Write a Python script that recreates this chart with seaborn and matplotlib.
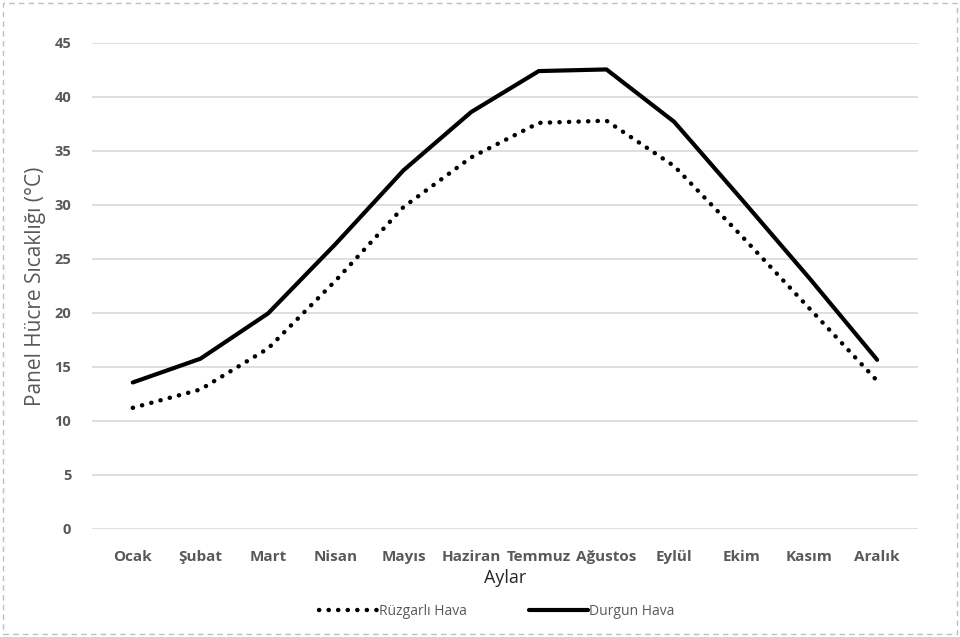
import pandas as pd
import numpy as np
import seaborn as sns
import matplotlib.pyplot as plt
from matplotlib.patches import Rectangle

# Aylar ve sıcaklık değerleri
aylar = ['Ocak', 'Şubat', 'Mart', 'Nisan', 'Mayıs', 'Haziran', 'Temmuz',
         'Ağustos', 'Eylül', 'Ekim', 'Kasım', 'Aralık']
ruzgarli = [11.2, 12.9, 16.7, 23.0, 29.8, 34.4, 37.6, 37.8, 33.6, 27.1, 20.4, 13.7]
durgun = [13.55, 15.75, 19.95, 26.4, 33.2, 38.6, 42.4, 42.55, 37.7, 30.5, 23.2, 15.65]

df = pd.DataFrame({'Ay': list(range(len(aylar))) * 2,
                   'Sicaklik': ruzgarli + durgun,
                   'Seri': ['Rüzgarlı Hava'] * len(aylar) + ['Durgun Hava'] * len(aylar)})

sns.set_style('white')
plt.rcParams['font.family'] = ['Open Sans', 'DejaVu Sans']

fig = plt.figure(figsize=(9.6, 6.37), dpi=100)
ax = fig.add_axes([0.096, 0.170, 0.860, 0.7625])

gri = '#595959'
sns.lineplot(data=df[df['Seri'] == 'Rüzgarlı Hava'], x='Ay', y='Sicaklik', ax=ax,
             color='black', linewidth=3.2, label='Rüzgarlı Hava',
             linestyle=(0, (0.05, 2.1)), dash_capstyle='round')
sns.lineplot(data=df[df['Seri'] == 'Durgun Hava'], x='Ay', y='Sicaklik', ax=ax,
             color='black', linewidth=3.0, label='Durgun Hava')

ax.set_xlim(-0.6, 11.6)
ax.set_ylim(0, 45)
ax.set_yticks(np.arange(0, 46, 5))
ax.set_xticks(range(len(aylar)))
ax.set_xticklabels(aylar)
ax.grid(axis='y', color='#d9d9d9', linewidth=1.2)
ax.grid(axis='x', visible=False)
for s in ax.spines.values():
    s.set_visible(False)
ax.tick_params(axis='both', length=0, labelcolor=gri)
ax.tick_params(axis='y', pad=15)
ax.tick_params(axis='x', pad=15)
for t in ax.get_xticklabels():
    t.set_fontweight('bold')
    t.set_fontsize(11)
for t in ax.get_yticklabels():
    t.set_fontweight('bold')
    t.set_fontsize(10.5)

ax.set_xlabel('Aylar', fontsize=13, color='#262626', labelpad=4)
ax.set_ylabel('Panel Hücre Sıcaklığı (°C)', fontsize=15, color=gri, labelpad=6)

ax.legend(loc='upper center', bbox_to_anchor=(0.49, -0.13), ncol=2, frameon=False,
          fontsize=10, labelcolor=gri, handlelength=4.2, handletextpad=0.1,
          columnspacing=4.5)

# kesikli çerçeve
fig.patches.append(Rectangle((0.003, 0.004), 0.994, 0.992, transform=fig.transFigure,
                             fill=False, edgecolor='#bfbfbf', linestyle=(0, (4, 3)),
                             linewidth=1))

plt.savefig('out.png', dpi=100)
